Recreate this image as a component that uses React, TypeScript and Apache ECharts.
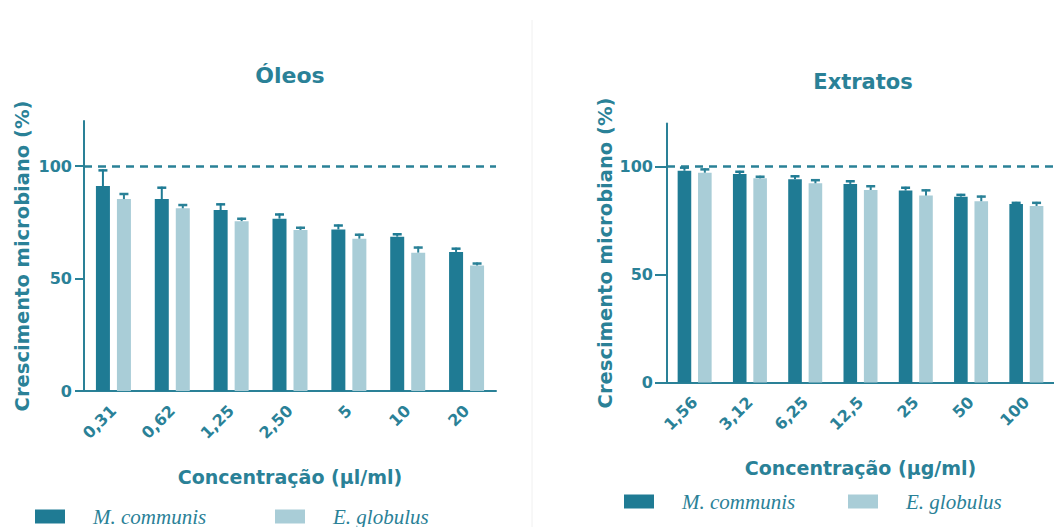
import React, { useEffect, useRef } from "react";
import * as echarts from "echarts";

const oleosCats = ["0,31", "0,62", "1,25", "2,50", "5", "10", "20"];
const oleosMC = [91.1, 85.3, 80.4, 76.6, 71.8, 68.6, 61.8];
const oleosMCErr = [7.4, 5.5, 3.0, 2.3, 2.2, 1.5, 1.9];
const oleosEG = [85.3, 81.2, 75.5, 71.6, 67.7, 61.5, 55.8];
const oleosEGErr = [2.7, 1.9, 1.5, 1.4, 2.2, 2.7, 1.3];

const extCats = ["1,56", "3,12", "6,25", "12,5", "25", "50", "100"];
const extMC = [98.1, 96.6, 94.2, 92.0, 88.9, 86.1, 82.7];
const extMCErr = [1.9, 1.5, 1.8, 1.7, 1.8, 1.3, 1.0];
const extEG = [97.2, 94.6, 92.3, 89.2, 86.6, 84.0, 81.8];
const extEGErr = [2.0, 1.2, 1.9, 2.2, 2.9, 2.6, 1.9];

const yTicks = [0, 50, 100];
const controlLevel = 100;

const DARK = "#1f7b94";
const LIGHT = "#a9cdd7";
const TEAL = "#2a8197";
const FONT = "DejaVu Sans";

function errSeries(name: string, axis: number, vals: number[], errs: number[], offset: number, color: string) {
  return {
    type: "custom",
    name: name + " err",
    xAxisIndex: axis,
    yAxisIndex: axis,
    z: 3,
    silent: true,
    encode: { x: 0, y: 1 },
    data: vals.map((v, i) => [i, v, errs[i]]),
    renderItem: (_params: any, api: any) => {
      const idx = api.value(0);
      const v = api.value(1);
      const e = api.value(2);
      const b = api.coord([idx, v]);
      const t = api.coord([idx, v + e]);
      const x = b[0] + offset;
      return {
        type: "group",
        children: [
          { type: "line", shape: { x1: x, y1: b[1], x2: x, y2: t[1] }, style: { stroke: color, lineWidth: 2 } },
          { type: "line", shape: { x1: x - 4.5, y1: t[1] + 1, x2: x + 4.5, y2: t[1] + 1 }, style: { stroke: color, lineWidth: 2.5 } },
        ],
      };
    },
  };
}

function xAxisOpt(idx: number, cats: string[], name: string, gap: number) {
  return {
    type: "category",
    gridIndex: idx,
    data: cats,
    name,
    nameLocation: "middle",
    nameGap: gap,
    nameTextStyle: { fontFamily: FONT, fontWeight: "bold", fontSize: 19, color: TEAL },
    axisLine: { lineStyle: { color: TEAL, width: 2 } },
    axisTick: { alignWithLabel: true, length: 8, lineStyle: { color: TEAL, width: 2 } },
    axisLabel: { rotate: 45, margin: 17, fontFamily: FONT, fontWeight: "bold", fontSize: 16, color: TEAL, interval: 0 },
  };
}

function yAxisOpt(idx: number, gap: number, margin: number, tickLen: number) {
  return {
    type: "value",
    gridIndex: idx,
    min: 0,
    max: 120,
    interval: 50,
    name: "Crescimento microbiano (%)",
    nameLocation: "middle",
    nameGap: gap,
    nameTextStyle: { fontFamily: FONT, fontWeight: "bold", fontSize: 19.5, color: TEAL },
    splitLine: { show: false },
    axisLine: { show: true, lineStyle: { color: TEAL, width: 2 } },
    axisTick: { show: true, length: tickLen, customValues: yTicks, lineStyle: { color: TEAL, width: 2 } },
    axisLabel: { margin, customValues: yTicks, fontFamily: FONT, fontWeight: "bold", fontSize: 16, color: TEAL },
  };
}

const markLine = {
  silent: true,
  symbol: "none",
  label: { show: false },
  lineStyle: { color: TEAL, width: 2.5, type: [8, 6] },
  data: [{ yAxis: controlLevel }],
};

export default function App() {
  const ref = useRef<HTMLDivElement>(null);
  useEffect(() => {
    if (!ref.current) return;
    const chart = echarts.init(ref.current, null, { renderer: "svg" });
    const bwL = 14;
    const bwR = 13.6;
    const legendText = {
      fontFamily: "Liberation Serif",
      fontStyle: "italic",
      fontSize: 21,
      lineHeight: 18,
      color: TEAL,
      padding: [0, 0, 0, 23],
    };
    const legend = (name: string, left: number, top: number) => ({
      data: [name],
      left,
      top,
      padding: 0,
      itemWidth: 30,
      itemHeight: 14,
      icon: "rect",
      selectedMode: false,
      textStyle: legendText,
    });
    chart.setOption({
      animation: false,
      backgroundColor: "#ffffff",
      graphic: [
        { type: "line", shape: { x1: 532, y1: 20, x2: 532, y2: 527 }, style: { stroke: "#f0f0f0", lineWidth: 1 }, z: -10 },
        { type: "text", x: 290, y: 75, style: { text: "Óleos", align: "center", verticalAlign: "middle", fontFamily: FONT, fontWeight: "bold", fontSize: 22, fill: TEAL } },
        { type: "text", x: 863, y: 82, style: { text: "Extratos", align: "center", verticalAlign: "middle", fontFamily: FONT, fontWeight: "bold", fontSize: 21, fill: TEAL } },
      ],
      legend: [
        legend("M. communis", 35, 506),
        legend("E. globulus", 275, 506),
        legend("M. communis", 624, 491),
        legend("E. globulus", 848, 491),
      ],
      grid: [
        { left: 84, top: 121, width: 412, height: 270 },
        { left: 667, top: 123.5, width: 394, height: 259 },
      ],
      xAxis: [
        xAxisOpt(0, oleosCats, "Concentração (µl/ml)", 76),
        xAxisOpt(1, extCats, "Concentração (µg/ml)", 76),
      ],
      yAxis: [yAxisOpt(0, 52, 12, 9), yAxisOpt(1, 52, 14, 12)],
      series: [
        { type: "bar", name: "M. communis", xAxisIndex: 0, yAxisIndex: 0, data: oleosMC, barWidth: bwL, barGap: "50%", itemStyle: { color: DARK }, markLine },
        { type: "bar", name: "E. globulus", xAxisIndex: 0, yAxisIndex: 0, data: oleosEG, barWidth: bwL, barGap: "50%", itemStyle: { color: LIGHT } },
        { type: "bar", name: "M. communis", xAxisIndex: 1, yAxisIndex: 1, data: extMC, barWidth: bwR, barGap: "50%", itemStyle: { color: DARK }, markLine },
        { type: "bar", name: "E. globulus", xAxisIndex: 1, yAxisIndex: 1, data: extEG, barWidth: bwR, barGap: "50%", itemStyle: { color: LIGHT } },
        errSeries("M. communis", 0, oleosMC, oleosMCErr, -bwL * 0.75, DARK),
        errSeries("E. globulus", 0, oleosEG, oleosEGErr, bwL * 0.75, TEAL),
        errSeries("M. communis", 1, extMC, extMCErr, -bwR * 0.75, DARK),
        errSeries("E. globulus", 1, extEG, extEGErr, bwR * 0.75, TEAL),
      ],
    });
    return () => chart.dispose();
  }, []);
  return <div ref={ref} style={{ position: "fixed", left: 0, top: 0, width: 1054, height: 527 }} />;
}
